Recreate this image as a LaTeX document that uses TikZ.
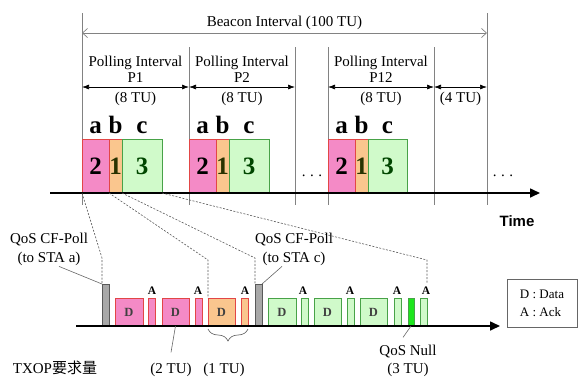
\documentclass[tikz,border=0pt]{standalone}
\usepackage{fontspec}
\setmainfont{Liberation Serif}
\setsansfont{Liberation Sans}
\newfontfamily\cjk{Noto Sans CJK JP}
\usetikzlibrary{arrows.meta,decorations.pathreplacing}

\definecolor{stapink}{RGB}{244,138,198}
\definecolor{staorange}{RGB}{250,198,142}
\definecolor{stagreen}{RGB}{208,250,202}
\definecolor{redline}{RGB}{226,70,70}
\definecolor{greenline}{RGB}{72,162,72}
\definecolor{nullgreen}{RGB}{30,230,30}
\definecolor{pollgray}{RGB}{168,168,168}
\definecolor{guidegray}{RGB}{130,130,130}

\tikzstyle{txt} = [inner sep=0pt, anchor=base, font=\fontsize{15}{18}\selectfont]
\tikzstyle{big} = [inner sep=0pt, anchor=base, font=\bfseries\fontsize{25}{25}\selectfont]
\tikzstyle{acktxt} = [inner sep=0pt, anchor=base, font=\bfseries\fontsize{11.5}{12}\selectfont]
\tikzstyle{slot} = [rectangle, draw, line width=0.9pt, inner sep=0pt, outer sep=0pt, anchor=south west, minimum height=54, font=\bfseries\fontsize{25}{25}\selectfont]
\tikzstyle{pkt} = [rectangle, draw, line width=0.9pt, inner sep=0pt, outer sep=0pt, anchor=south west, minimum height=28, font=\bfseries\fontsize{12.5}{13}\selectfont, text=black!75]
\tikzstyle{pinkpkt} = [pkt, fill=stapink, draw=redline]
\tikzstyle{orangepkt} = [pkt, fill=staorange, draw=redline]
\tikzstyle{greenpkt} = [pkt, fill=stagreen, draw=greenline]
\tikzstyle{poll} = [pkt, fill=pollgray, draw=black!65, minimum width=7, minimum height=42]
\tikzstyle{guide} = [draw=guidegray, line width=0.7pt]
\tikzstyle{timeline} = [line width=1.6pt, -{Triangle[length=10pt,width=9pt]}]
\tikzstyle{polling} = [line width=0.7pt, {Latex[length=7pt,width=5pt]}-{Latex[length=7pt,width=5pt]}]
\tikzstyle{beacon} = [draw=guidegray, line width=0.7pt, {Straight Barb[length=5pt,width=9pt]}-{Straight Barb[length=5pt,width=9pt]}]
\tikzstyle{zoomline} = [draw=black!65, line width=0.6pt, dash pattern=on 2pt off 1.5pt]
\tikzstyle{pointer} = [draw=black!60, line width=0.6pt]
\tikzstyle{tubrace} = [draw=black!65, line width=0.6pt, decorate, decoration={brace, mirror, amplitude=12pt}]
\tikzstyle{keybox} = [draw=black!60, line width=0.7pt, minimum width=70, minimum height=48, align=left, inner sep=0pt, font=\fontsize{13}{18}\selectfont]

\begin{document}
\begin{tikzpicture}[x=1pt,y=-1pt]
  \useasboundingbox (0,0) rectangle (578,376);

  % interval marks
  \foreach \n/\x/\y in {0/82/13,1/189/47,2/295/47,3/328/47,4/434/47,5/487/13}{
    \coordinate (top\n) at (\x,\y);
    \coordinate (bot\n) at (\x,205);
    \coordinate (pol\n) at (\x,87);
    \draw[guide] (top\n) -- (bot\n);
  }
  \coordinate (bi0) at (82,33);
  \coordinate (bi1) at (487,33);
  \draw[beacon] (bi0) -- (bi1);
  \node[txt] (bilbl) at (284.5,26) {Beacon Interval (100 TU)};

  \draw[polling] (pol0) -- (pol1);
  \draw[polling] (pol1) -- (pol2);
  \draw[polling] (pol3) -- (pol4);
  \draw[polling] (pol4) -- (pol5);
  \node[txt] (pi1) at (135.5,66) {Polling Interval};
  \node[txt] (pn1) at (135.5,82) {P1};
  \node[txt] (pd1) at (135.5,102) {(8 TU)};
  \node[txt] (pi2) at (242,66) {Polling Interval};
  \node[txt] (pn2) at (242,82) {P2};
  \node[txt] (pd2) at (242,102) {(8 TU)};
  \node[txt] (pi3) at (381,66) {Polling Interval};
  \node[txt] (pn3) at (381,82) {P12};
  \node[txt] (pd3) at (381,102) {(8 TU)};
  \node[txt] (pd4) at (460.5,102) {(4 TU)};

  \begin{scope}[xshift=0]
    \node[slot, fill=stapink, draw=redline, minimum width=27] (a1) at (82,193) {2};
    \node[slot, fill=staorange, draw=redline, minimum width=13, text={rgb,255:red,40;green,50;blue,0}] (b1) at (109,193) {1};
    \node[slot, fill=stagreen, draw=greenline, minimum width=40, text={rgb,255:red,0;green,70;blue,0}] (c1) at (122,193) {3};
    \node[big] (la1) at (95.5,133) {a};
    \node[big] (lb1) at (115.5,133) {b};
    \node[big] (lc1) at (142,133) {c};
  \end{scope}
  \begin{scope}[xshift=107]
    \node[slot, fill=stapink, draw=redline, minimum width=27] (a2) at (82,193) {2};
    \node[slot, fill=staorange, draw=redline, minimum width=13, text={rgb,255:red,40;green,50;blue,0}] (b2) at (109,193) {1};
    \node[slot, fill=stagreen, draw=greenline, minimum width=40, text={rgb,255:red,0;green,70;blue,0}] (c2) at (122,193) {3};
    \node[big] (la2) at (95.5,133) {a};
    \node[big] (lb2) at (115.5,133) {b};
    \node[big] (lc2) at (142,133) {c};
  \end{scope}
  \begin{scope}[xshift=246]
    \node[slot, fill=stapink, draw=redline, minimum width=27] (a3) at (82,193) {2};
    \node[slot, fill=staorange, draw=redline, minimum width=13, text={rgb,255:red,40;green,50;blue,0}] (b3) at (109,193) {1};
    \node[slot, fill=stagreen, draw=greenline, minimum width=39, text={rgb,255:red,0;green,70;blue,0}] (c3) at (122,193) {3};
    \node[big] (la3) at (95.5,133) {a};
    \node[big] (lb3) at (115.5,133) {b};
    \node[big] (lc3) at (141.5,133) {c};
  \end{scope}
  \node[txt] (dots1) at (312,176) {.\hspace{4.5pt}.\hspace{4.5pt}.};
  \node[txt] (dots2) at (503,176) {.\hspace{4.5pt}.\hspace{4.5pt}.};

  \coordinate (ax0) at (50,193);
  \coordinate (ax1) at (540,193);
  \draw[timeline] (ax0) -- (ax1);
  \node[txt, font=\sffamily\bfseries\fontsize{15}{18}\selectfont] (time) at (517,226) {Time};

  % frames inside polling interval P1
  \node[poll] (cfpa) at (102,326) {};
  \node[pinkpkt, minimum width=28] (d1) at (115,326) {D};
  \node[pinkpkt, minimum width=7] (k1) at (148,326) {};
  \node[pinkpkt, minimum width=27] (d2) at (162,326) {D};
  \node[pinkpkt, minimum width=7] (k2) at (195,326) {};
  \node[orangepkt, minimum width=27] (d3) at (208,326) {D};
  \node[orangepkt, minimum width=7] (k3) at (241,326) {};
  \node[poll] (cfpc) at (255,326) {};
  \node[greenpkt, minimum width=28] (d4) at (268,326) {D};
  \node[greenpkt, minimum width=7] (k4) at (301,326) {};
  \node[greenpkt, minimum width=27] (d5) at (314,326) {D};
  \node[greenpkt, minimum width=7] (k5) at (347,326) {};
  \node[greenpkt, minimum width=27] (d6) at (360,326) {D};
  \node[greenpkt, minimum width=7] (k6) at (394,326) {};
  \node[pkt, fill=nullgreen, draw=greenline, minimum width=6] (qnull) at (408,326) {};
  \node[greenpkt, minimum width=7] (k7) at (420,326) {};

  \node[acktxt] (ka1) at (152,294) {A};
  \node[acktxt] (ka2) at (198,294) {A};
  \node[acktxt] (ka3) at (245,294) {A};
  \node[acktxt] (ka4) at (303,294) {A};
  \node[acktxt] (ka5) at (350,294) {A};
  \node[acktxt] (ka6) at (397,294) {A};
  \node[acktxt] (ka7) at (426,294) {A};

  \coordinate (bx0) at (76,326);
  \coordinate (bx1) at (500,326);
  \draw[timeline] (bx0) -- (bx1);

  \draw[zoomline] (a1.south west) -- ([yshift=26pt]cfpa.north west) -- (cfpa.north west);
  \draw[zoomline] (b1.south west) -- ([yshift=38pt]d3.north west) -- (d3.north west);
  \draw[zoomline] (c1.south west) -- ([yshift=26pt]cfpc.north west) -- (cfpc.north west);
  \draw[zoomline] (c1.south east) -- ([yshift=38pt]k7.north east) -- ([yshift=15pt]k7.north east);

  \node[txt] (cfa1) at (49,243) {QoS CF-Poll};
  \node[txt] (cfa2) at (49,262) {(to STA a)};
  \draw[pointer] ([xshift=10pt,yshift=-1pt]cfa2.south) -- (cfpa.north west);
  \node[txt] (cfc1) at (294,243) {QoS CF-Poll};
  \node[txt] (cfc2) at (294,262) {(to STA c)};
  \draw[pointer] ([xshift=-12pt,yshift=-1pt]cfc2.south) -- (cfpc.north east);

  \node[txt] (tu2) at (171,373) {(2 TU)};
  \draw[pointer] (d2.south) -- ([yshift=10pt]tu2.north);
  \draw[tubrace] ([yshift=-3pt]d3.south west) -- ([yshift=-3pt]k3.south east);
  \node[txt] (tu1) at (224,373) {(1 TU)};
  \node[txt] (qn1) at (408,355) {QoS Null};
  \node[txt] (qn2) at (408,373) {(3 TU)};
  \draw[pointer] (qnull.south) -- ([xshift=-5pt,yshift=7pt]qn1.north);
  \node[txt] (txop) at (55,373) {TXOP{\cjk 要求量}};

  \node[keybox] (key) at (542,303) {D : Data\\A : Ack};
\end{tikzpicture}
\end{document}
